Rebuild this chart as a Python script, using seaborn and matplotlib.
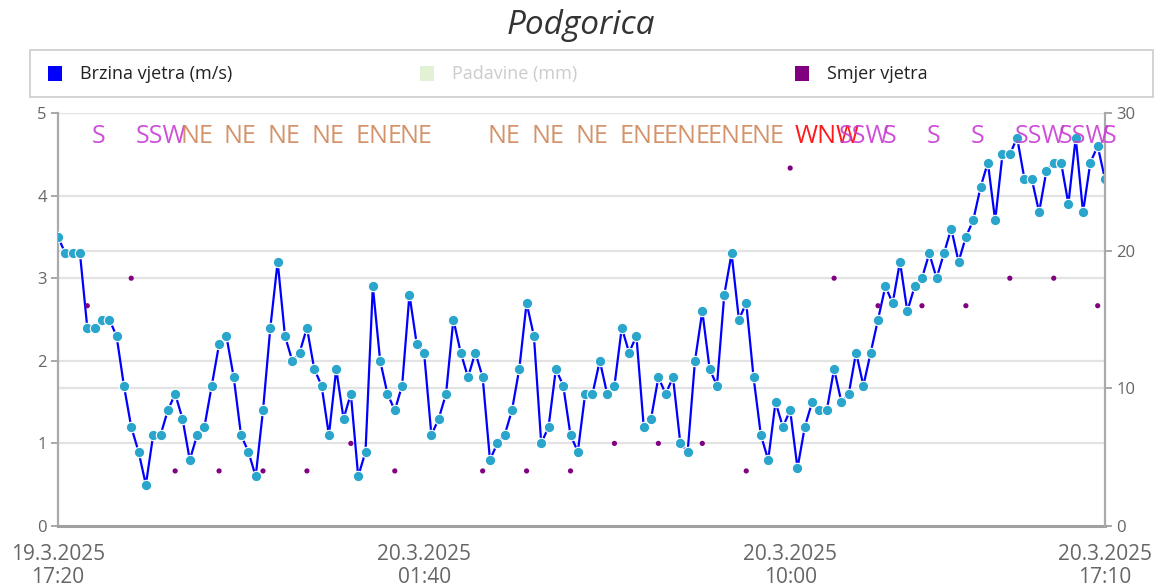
import numpy as np
import pandas as pd
import matplotlib
matplotlib.use("Agg")
import matplotlib.pyplot as plt
import matplotlib.dates as mdates
from matplotlib.patches import Rectangle
import seaborn as sns

# ---------------- data ----------------
title = "Podgorica"
start_time = "2025-03-19 17:20"
wind_speed = [
    3.5, 3.3, 3.3, 3.3, 2.4, 2.4, 2.5, 2.5, 2.3, 1.7,
    1.2, 0.9, 0.5, 1.1, 1.1, 1.4, 1.6, 1.3, 0.8, 1.1,
    1.2, 1.7, 2.2, 2.3, 1.8, 1.1, 0.9, 0.6, 1.4, 2.4,
    3.2, 2.3, 2.0, 2.1, 2.4, 1.9, 1.7, 1.1, 1.9, 1.3,
    1.6, 0.6, 0.9, 2.9, 2.0, 1.6, 1.4, 1.7, 2.8, 2.2,
    2.1, 1.1, 1.3, 1.6, 2.5, 2.1, 1.8, 2.1, 1.8, 0.8,
    1.0, 1.1, 1.4, 1.9, 2.7, 2.3, 1.0, 1.2, 1.9, 1.7,
    1.1, 0.9, 1.6, 1.6, 2.0, 1.6, 1.7, 2.4, 2.1, 2.3,
    1.2, 1.3, 1.8, 1.6, 1.8, 1.0, 0.9, 2.0, 2.6, 1.9,
    1.7, 2.8, 3.3, 2.5, 2.7, 1.8, 1.1, 0.8, 1.5, 1.2,
    1.4, 0.7, 1.2, 1.5, 1.4, 1.4, 1.9, 1.5, 1.6, 2.1,
    1.7, 2.1, 2.5, 2.9, 2.7, 3.2, 2.6, 2.9, 3.0, 3.3,
    3.0, 3.3, 3.6, 3.2, 3.5, 3.7, 4.1, 4.4, 3.7, 4.5,
    4.5, 4.7, 4.2, 4.2, 3.8, 4.3, 4.4, 4.4, 3.9, 4.7,
    3.8, 4.4, 4.6, 4.2,
]

dir_start = "2025-03-19 18:00"
dir_labels = [
    "S", "SSW", "NE", "NE", "NE", "NE", "ENE", "NE", None, "NE",
    "NE", "NE", "ENE", "ENE", "ENE", "NE", "WNW", "SSW", "S", "S",
    "S", "SSW", "SSW", "S",
]
dir_values = [
    16, 18, 4, 4, 4, 4, 6, 4, None, 4,
    4, 4, 6, 6, 6, 4, 26, 18, 16, 16,
    16, 18, 18, 16,
]
dir_colors = {"S": "#c93cd4", "SSW": "#c93cd4", "NE": "#d0875a",
              "ENE": "#d0875a", "WNW": "#ff0000"}

tick_times = ["2025-03-19 17:20", "2025-03-20 01:40",
              "2025-03-20 10:00", "2025-03-20 17:10"]
left_ticks = [0, 1, 2, 3, 4, 5]
right_ticks = [0, 10, 20, 30]
legend_labels = ["Brzina vjetra (m/s)", "Padavine (mm)", "Smjer vjetra"]
legend_colors = ["#0000ff", "#e2f0d4", "#800080"]
legend_text_colors = ["#222222", "#cccccc", "#222222"]

# ---------------- style ----------------
sns.set_theme(style="white")
plt.rcParams['font.family'] = ['Open Sans', 'DejaVu Sans']

times = pd.date_range(start_time, periods=len(wind_speed), freq="10min")
df = pd.DataFrame({"time": times, "speed": wind_speed})
dtimes = pd.date_range(dir_start, periods=len(dir_labels), freq="h")
ddf = pd.DataFrame({"time": dtimes, "label": dir_labels,
                    "value": dir_values}).dropna()

W, H = 1161, 586
fig = plt.figure(figsize=(W / 100, H / 100), dpi=100)
ax = fig.add_axes([58 / W, 1 - 526 / H, (1105 - 58) / W, (526 - 113) / H])
ax2 = ax.twinx()

# grid lines (both axes) drawn underneath the data
grid_c = "#e3e3e3"
for t in left_ticks[1:]:
    ax.axhline(t, color=grid_c, lw=1.6, zorder=0)
for t in right_ticks[1:-1]:
    ax.axhline(t * left_ticks[-1] / right_ticks[-1], color=grid_c, lw=1.6, zorder=0)

sns.lineplot(data=df, x="time", y="speed", ax=ax, color="#0000ff",
             linewidth=1.6, marker="o", markersize=7.5,
             markerfacecolor="#2aa5cc", markeredgecolor="white",
             markeredgewidth=0.8, zorder=3)

sns.scatterplot(data=ddf, x="time", y="value", ax=ax2, color="#800080",
                s=14, edgecolor="none", zorder=4)

ax.set_ylim(left_ticks[0], left_ticks[-1])
ax2.set_ylim(right_ticks[0], right_ticks[-1])
ax.set_xlim(times[0], times[-1])

for _, r in ddf.iterrows():
    ax2.annotate(r["label"], xy=(mdates.date2num(r["time"]), 0.942),
                 xycoords=ax2.get_xaxis_transform(),
                 xytext=(3.5, 0), textcoords="offset points",
                 ha="left", va="center", fontsize=18,
                 color=dir_colors[r["label"]], alpha=0.9, zorder=5)

# axes cosmetics
ax.set_xlabel("")
ax.set_ylabel("")
ax2.set_ylabel("")
ax.set_yticks(left_ticks)
ax2.set_yticks(right_ticks)
tt = pd.to_datetime(tick_times)
ax.set_xticks(tt)
ax.set_xticklabels([f"{t.day}.{t.month}.{t.year}\n{t:%H:%M}" for t in tt],
                   linespacing=1.1)
ax.tick_params(axis="x", colors="#999999", length=8, width=1.2,
               labelsize=15, labelcolor="#666666", pad=5)
ax.tick_params(axis="y", colors="#999999", length=5, width=1.2,
               labelsize=12, labelcolor="#666666", pad=3)
ax2.tick_params(axis="y", colors="#999999", length=5, width=1.2,
                labelsize=12, labelcolor="#666666", pad=3)

for a in (ax, ax2):
    a.spines["top"].set_visible(False)
ax.spines["right"].set_visible(False)
ax2.spines["left"].set_visible(False)
ax2.spines["bottom"].set_visible(False)
ax.spines["left"].set_color("#aaaaaa")
ax.spines["left"].set_linewidth(1.6)
ax2.spines["right"].set_color("#aaaaaa")
ax2.spines["right"].set_linewidth(1.6)
ax.spines["bottom"].set_color("#a0a0a0")
ax.spines["bottom"].set_linewidth(2.2)

# title
fig.text(0.5, 1 - 25 / H, title, ha="center", va="center", fontsize=24,
         style="italic", color="#333333")

# legend (drawn as a box with three evenly spaced entries)
fig.add_artist(Rectangle((30 / W, 1 - 97 / H), 1123 / W, 47 / H,
                         transform=fig.transFigure, facecolor="white",
                         edgecolor="#cccccc", linewidth=1.2))
entry_x = [48, 420, 795]
for x0, lab, c, tc in zip(entry_x, legend_labels, legend_colors,
                          legend_text_colors):
    fig.add_artist(Rectangle((x0 / W, 1 - 81 / H), 14 / W, 15 / H,
                             transform=fig.transFigure, facecolor=c,
                             edgecolor="none"))
    fig.text((x0 + 32) / W, 1 - 74 / H, lab, ha="left", va="center",
             fontsize=13, color=tc)

fig.savefig("out.png", dpi=100)
